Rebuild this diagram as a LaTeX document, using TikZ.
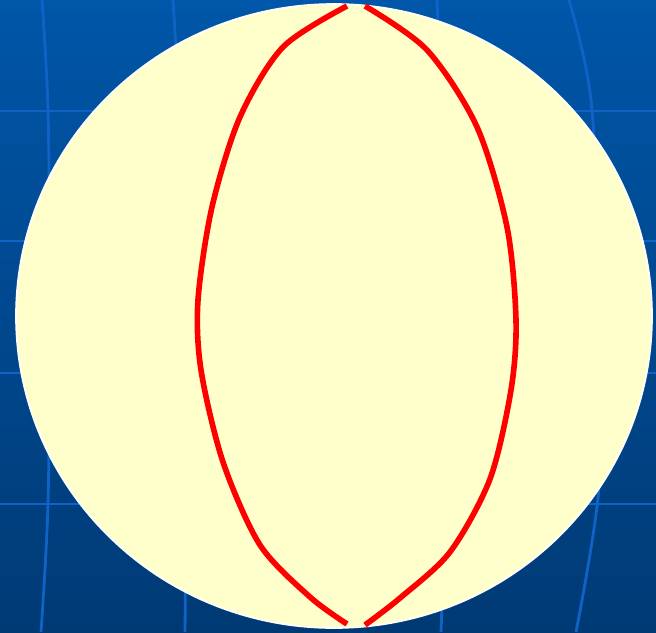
\documentclass[tikz,border=0pt]{standalone}
\usetikzlibrary{backgrounds}
\definecolor{slideblue}{HTML}{0056A8}
\definecolor{slidedeep}{HTML}{003A75}
\definecolor{gridblue}{HTML}{0F63C6}
\definecolor{ballyellow}{HTML}{FFFFCC}
\definecolor{meridianred}{HTML}{FF0000}
\tikzset{
  gridline/.style={gridblue, line width=2pt},
  rim/.style={white, line width=1.2pt},
  meridian/.style={meridianred, line width=4pt}
}
\begin{document}
\begin{tikzpicture}[x=0.025cm, y=-0.025cm]
  \useasboundingbox (0,0) rectangle (656,632);
  \clip (0,0) rectangle (656,632);
  % slide background with its grid
  \shade[top color=slideblue, bottom color=slidedeep] (0,0) rectangle (656,632);
  \foreach \yy in {111,241,373,504}
    \draw[gridline] (0,\yy) -- (656,\yy);
  \draw[gridline] plot[smooth] coordinates {(42,0) (48,110) (50,300) (48,504) (41,632)};
  \draw[gridline] plot[smooth] coordinates {(173,0) (181,150) (186,400) (185,632)};
  \draw[gridline] plot[smooth] coordinates {(437,0) (444,200) (446,450) (441,632)};
  \draw[gridline] plot[smooth] coordinates {(569,0) (591,100) (601,300) (599,487) (576,632)};
  % the ball
  \fill[ballyellow] (334,316) ellipse [x radius=318, y radius=312];
  \draw[rim] (334,316) ellipse [x radius=318, y radius=312];
  % two meridians
  \draw[meridian] plot[smooth] coordinates {(347,6) (283,47) (240,117) (212,207) (198,300)
    (201,370) (223,462) (260,545) (310,597) (347,624)};
  \draw[meridian] plot[smooth] coordinates {(365,6) (427,50) (477,127) (507,227) (516,320)
    (511,390) (490,479) (450,552) (400,598) (365,625)};
\end{tikzpicture}
\end{document}
